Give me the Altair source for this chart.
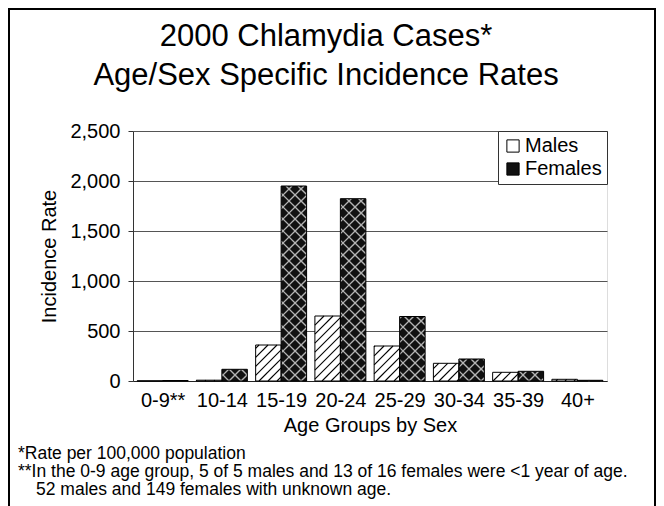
import altair as alt
import pandas as pd
import numpy as np

categories = ["0-9**", "10-14", "15-19", "20-24", "25-29", "30-34", "35-39", "40+"]
males = [2, 8, 360, 650, 350, 177, 87, 17]
females = [5, 117, 1950, 1823, 645, 220, 97, 7]
series = ["Males", "Females"]

title_lines = ["2000 Chlamydia Cases*", "Age/Sex Specific Incidence Rates"]
footnotes = [
    "*Rate per 100,000 population",
    "**In the 0-9 age group, 5 of 5 males and 13 of 16 females were <1 year of age.",
]
footnote_indented = "52 males and 149 females with unknown age."

W, H = 474, 250
YMAX = 2500
N = len(categories)
KX = W / N          # px per category unit
KY = H / YMAX       # px per rate unit
FONT = "Liberation Sans"

# ---- bars ----
rows = []
for i in range(N):
    rows.append(dict(series="Males", x=i + 0.07, x2=i + 0.5, y=0, y2=males[i]))
    rows.append(dict(series="Females", x=i + 0.5, x2=i + 0.93, y=0, y2=females[i]))
bars = pd.DataFrame(rows)


def hatch(x0, x1, h, s, direction):
    segs = []
    if h <= 0.5:
        return segs
    if direction > 0:  # y = x + c  ("/")
        kmin = int(np.floor(-x1 / s)) - 1
        kmax = int(np.ceil((h - x0) / s)) + 1
        for k in range(kmin, kmax + 1):
            c = k * s
            lo, hi = max(x0, -c), min(x1, h - c)
            if hi - lo > 0.3:
                segs.append((lo, lo + c, hi, hi + c))
    else:  # y = -x + c  ("\")
        kmin = int(np.floor(x0 / s)) - 1
        kmax = int(np.ceil((h + x1) / s)) + 1
        for k in range(kmin, kmax + 1):
            c = k * s
            lo, hi = max(x0, c - h), min(x1, c)
            if hi - lo > 0.3:
                segs.append((lo, c - lo, hi, c - hi))
    return segs


def seg_frame(segs):
    return pd.DataFrame(
        [dict(x=a / KX, y=b / KY, x2=c / KX, y2=d / KY) for a, b, c, d in segs],
        columns=["x", "y", "x2", "y2"],
    )


m_segs, f_segs = [], []
for _, r in bars.iterrows():
    x0, x1, h = r.x * KX, r.x2 * KX, r.y2 * KY
    if r.series == "Males":
        m_segs += hatch(x0, x1, h, 9.0, 1)
    else:
        f_segs += hatch(x0, x1, h, 12.0, 1)
        f_segs += hatch(x0, x1, h, 12.0, -1)
m_hatch = seg_frame(m_segs)
f_hatch = seg_frame(f_segs)

# ---- scales / axes ----
xs = alt.Scale(domain=[0, N], nice=False, zero=False)
ys = alt.Scale(domain=[0, YMAX], nice=False)
label_arr = "[" + ",".join("'" + c + "'" for c in categories) + "]"
xaxis = alt.Axis(
    values=[i + 0.5 for i in range(N)],
    labelExpr=label_arr + "[floor(datum.value)]",
    grid=False, ticks=False, tickSize=0, labelFlush=False, labelOverlap=False,
    labelPadding=25, labelBaseline="alphabetic",
    labelFont=FONT, labelFontSize=20, labelColor="black",
    domainColor="#222",
    title="Age Groups by Sex", titleFont=FONT, titleFontSize=20,
    titleFontWeight="normal", titleColor="black", titlePadding=5,
)
yaxis = alt.Axis(
    values=list(range(0, YMAX + 1, 500)), format=",.0f",
    labelFont=FONT, labelFontSize=20, labelColor="black",
    tickSize=5, tickColor="#333", labelPadding=8,
    domainColor="#333", gridColor="#555", grid=True,
    title="Incidence Rate", titleFont=FONT, titleFontSize=20,
    titleFontWeight="normal", titleColor="black", titlePadding=10,
)

X = alt.X("x:Q", scale=xs, axis=xaxis)
Y = alt.Y("y:Q", scale=ys, axis=yaxis)

fill = alt.Chart(bars).mark_rect().encode(
    x=X, x2="x2:Q", y=Y, y2="y2:Q",
    color=alt.Color(
        "series:N",
        scale=alt.Scale(domain=series, range=["white", "#111111"]),
        legend=alt.Legend(
            title=None, orient="top-right", offset=0, padding=5,
            strokeColor="#333", fillColor="white",
            labelFont=FONT, labelFontSize=20, labelColor="black",
            symbolType="square", symbolSize=150,
            symbolStrokeColor="black", symbolStrokeWidth=1,
            rowPadding=3, labelOffset=2,
        ),
    ),
)

mh = alt.Chart(m_hatch).mark_rule(color="black", strokeWidth=1.1).encode(
    x=X, x2="x2:Q", y=Y, y2="y2:Q"
)
fh = alt.Chart(f_hatch).mark_rule(color="#b4b4b4", strokeWidth=1.4).encode(
    x=X, x2="x2:Q", y=Y, y2="y2:Q"
)
outline = alt.Chart(bars).mark_rect(fillOpacity=0, stroke="black", strokeWidth=1).encode(
    x=X, x2="x2:Q", y=Y, y2="y2:Q"
)

one = pd.DataFrame({"k": [0]})

title = alt.Chart(one).mark_text(
    align="center", baseline="alphabetic", font=FONT, fontSize=31,
    lineHeight=39, color="black",
).encode(x=alt.value(193), y=alt.value(-85), text=alt.value(title_lines))

note_style = dict(align="left", baseline="alphabetic", font=FONT, fontSize=17.5,
                  lineHeight=18, color="black")
notes = alt.Chart(one).mark_text(**note_style).encode(
    x=alt.value(-115), y=alt.value(327.5), text=alt.value(footnotes)
)
notes3 = alt.Chart(one).mark_text(**note_style).encode(
    x=alt.value(-97), y=alt.value(363.5), text=alt.value(footnote_indented)
)

frame_left = alt.Chart(one).mark_rule(color="black", strokeWidth=2).encode(
    x=alt.value(-124), y=alt.value(-122), y2=alt.value(380)
)
frame_top = alt.Chart(one).mark_rule(color="black", strokeWidth=2).encode(
    x=alt.value(-125), x2=alt.value(523), y=alt.value(-122)
)
frame_right = alt.Chart(one).mark_rule(color="black", strokeWidth=2).encode(
    x=alt.value(522), y=alt.value(-122), y2=alt.value(380)
)

chart = alt.layer(
    fill, mh, fh, outline, title, notes, notes3, frame_left, frame_top, frame_right
).properties(
    width=W, height=H,
    padding={"left": 125, "top": 123, "right": 49, "bottom": 125},
    autosize=alt.AutoSizeParams(type="none"),
).configure_view(stroke="#444", strokeWidth=1).configure(background="white")

chart.save("out.html", embed_options={"renderer": "svg", "actions": False})
